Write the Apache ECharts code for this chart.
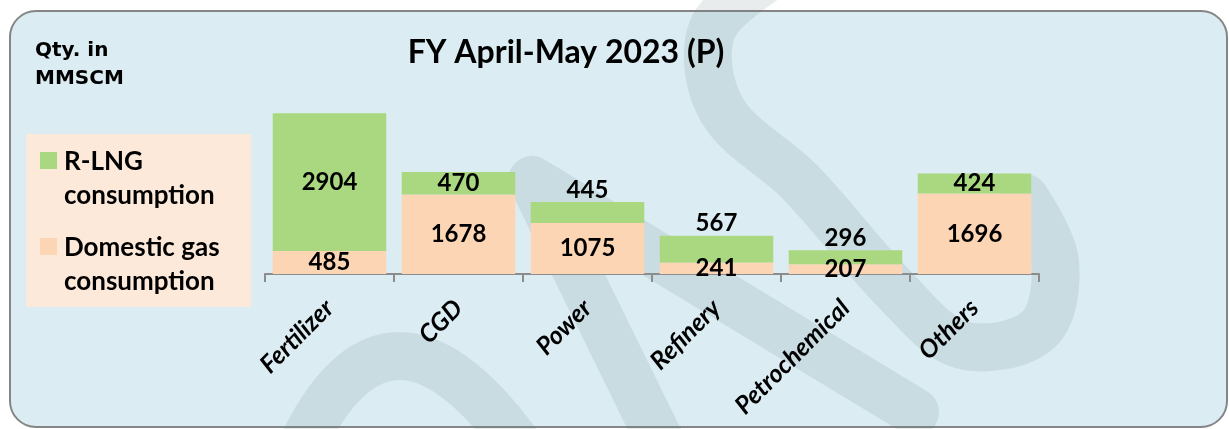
<!DOCTYPE html>
<html>
<head>
<meta charset="utf-8">
<title>FY April-May 2023 (P)</title>
<script src="https://cdn.jsdelivr.net/npm/echarts@6/dist/echarts.min.js"></script>
<style>
  html, body { margin: 0; padding: 0; background: #fff; }
  #chart { width: 1229px; height: 429px; }
</style>
</head>
<body>
<div id="chart"></div>
<script>
// data (MMSCM)
const categories = ['Fertilizer', 'CGD', 'Power', 'Refinery', 'Petrochemical', 'Others'];
const domesticGas = [485, 1678, 1075, 241, 207, 1696];
const rlng = [2904, 470, 445, 567, 296, 424];
const seriesNames = ['R-LNG consumption', 'Domestic gas consumption'];

// R-LNG labels that sit above the bar instead of inside it
const labelAbove = ['Power', 'Refinery', 'Petrochemical'];

const GREEN = '#A9D881';
const PEACH = '#FCD5B4';
const FONT = 'Lato, "Noto Sans", sans-serif';
const WIDE = '"DejaVu Sans", Lato, sans-serif';

const chart = echarts.init(document.getElementById('chart'));

// watermark strokes, purely decorative
const wmStyle = { fill: null, stroke: 'rgba(95,120,130,0.14)', lineWidth: 48, lineCap: 'round', lineJoin: 'round' };
const watermark = [
    { type: 'bezierCurve', shape: { x1: 300, y1: 450, cpx1: 388, cpy1: 262, x2: 522, y2: 450 } },
    { type: 'polyline', shape: { points: [[662, 445], [532, 180], [915, 412]] } },
    {
        type: 'polyline',
        shape: {
            smooth: 0.35,
            points: [[772, -25], [712, 30], [722, 110], [800, 182], [900, 295], [962, 345], [1038, 330], [1055, 262], [1025, 198]]
        }
    }
].map(el => Object.assign(el, { z: -5, style: wmStyle }));

const option = {
    backgroundColor: '#ffffff',
    animation: false,
    grid: { left: 265, right: 190, top: 108, bottom: 155 },
    xAxis: {
        type: 'category',
        data: categories,
        axisLine: { lineStyle: { color: '#8C8C8C', width: 2 } },
        axisTick: { show: true, length: 8, lineStyle: { color: '#8C8C8C', width: 2 } },
        axisLabel: {
            rotate: 45,
            margin: 30,
            color: '#000',
            fontFamily: FONT,
            fontSize: 25,
            fontWeight: 'bold',
            fontStyle: 'italic'
        }
    },
    yAxis: {
        type: 'value',
        min: 0,
        max: 3500,
        show: false,
        splitLine: { show: false }
    },
    series: [
        {
            name: seriesNames[1],
            type: 'bar',
            stack: 'gas',
            barCategoryGap: '12%',
            itemStyle: { color: PEACH },
            label: {
                show: true,
                position: 'inside',
                color: '#000',
                fontFamily: FONT,
                fontSize: 24,
                fontWeight: 'bold'
            },
            data: domesticGas
        },
        {
            name: seriesNames[0],
            type: 'bar',
            stack: 'gas',
            barCategoryGap: '12%',
            itemStyle: { color: GREEN },
            label: {
                show: true,
                position: 'inside',
                color: '#000',
                fontFamily: FONT,
                fontSize: 24,
                fontWeight: 'bold'
            },
            data: rlng.map((v, i) => ({
                value: v,
                label: labelAbove.includes(categories[i])
                    ? { position: 'top', distance: 0 }
                    : { position: 'inside' }
            }))
        }
    ],
    graphic: [
        {
            type: 'rect',
            z: -10,
            shape: { x: 10, y: 11, width: 1217, height: 416, r: 26 },
            style: { fill: '#DBEDF3', stroke: '#858585', lineWidth: 2 }
        },
        ...watermark,
        {
            type: 'text',
            z: 10,
            style: {
                text: 'FY April-May 2023 (P)',
                x: 566, y: 37,
                textAlign: 'center',
                fill: '#000',
                font: 'bold 32px ' + FONT
            }
        },
        {
            type: 'text',
            z: 10,
            style: {
                text: 'Qty. in\nMMSCM',
                x: 35, y: 37,
                fill: '#000',
                font: 'bold 20px ' + WIDE,
                lineHeight: 28
            }
        },
        // legend box
        {
            type: 'rect',
            z: 10,
            shape: { x: 26, y: 134, width: 225, height: 173 },
            style: { fill: '#FDE9DA' }
        },
        {
            type: 'rect',
            z: 11,
            shape: { x: 40, y: 152, width: 17, height: 17 },
            style: { fill: GREEN }
        },
        {
            type: 'text',
            z: 11,
            style: {
                text: 'R-LNG\nconsumption',
                x: 64, y: 145,
                fill: '#000',
                font: 'bold 26px ' + FONT,
                lineHeight: 34
            }
        },
        {
            type: 'rect',
            z: 11,
            shape: { x: 40, y: 238, width: 17, height: 17 },
            style: { fill: PEACH }
        },
        {
            type: 'text',
            z: 11,
            style: {
                text: 'Domestic gas\nconsumption',
                x: 64, y: 231,
                fill: '#000',
                font: 'bold 26px ' + FONT,
                lineHeight: 34
            }
        }
    ]
};

chart.setOption(option);
window.addEventListener('resize', () => chart.resize());
</script>
</body>
</html>
